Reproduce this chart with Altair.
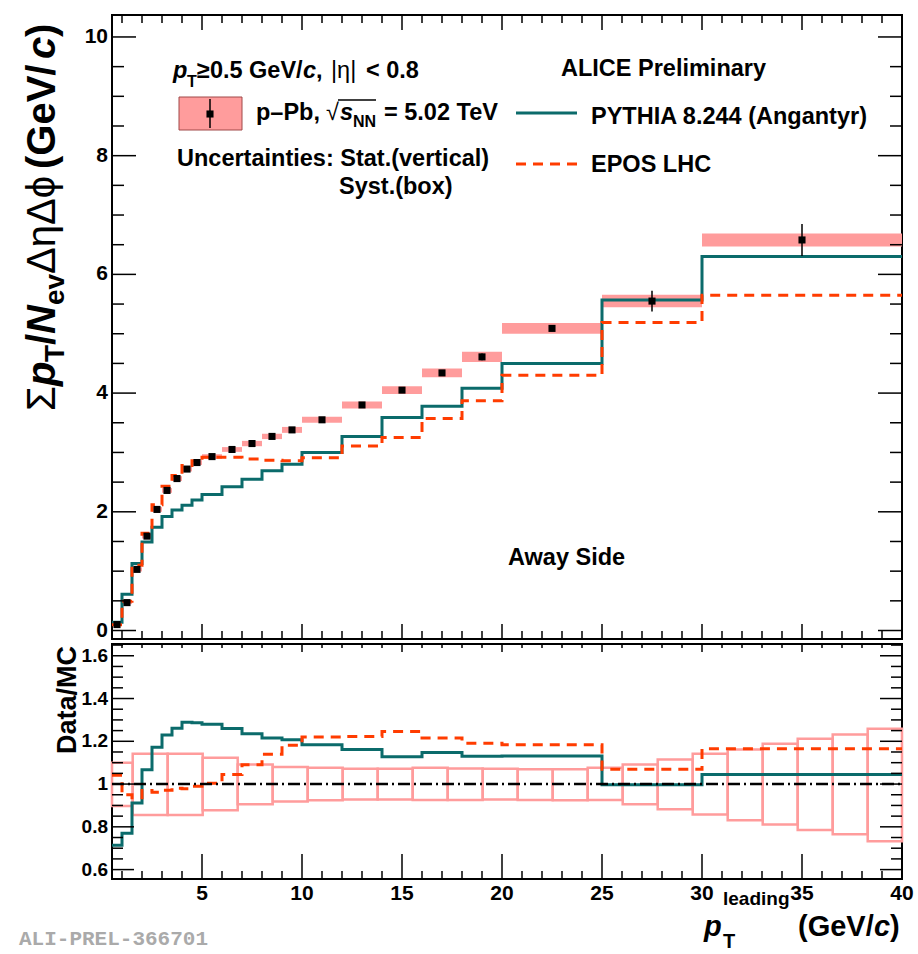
import altair as alt
import pandas as pd

# ---------------------------------------------------------------------------
# Away-side summed pT density vs leading-particle pT, p-Pb at 5.02 TeV
# ---------------------------------------------------------------------------
bin_edges = [0.5, 1, 1.5, 2, 2.5, 3, 3.5, 4, 4.5, 5, 6, 7, 8, 9, 10,
             12, 14, 16, 18, 20, 25, 30, 40]

data_val = [0.10, 0.47, 1.03, 1.59, 2.04, 2.36, 2.56, 2.72, 2.83, 2.93, 3.05,
            3.15, 3.27, 3.38, 3.55, 3.80, 4.05, 4.34, 4.61, 5.09, 5.55, 6.58]
data_stat = [0.005, 0.008, 0.010, 0.010, 0.010, 0.010, 0.012, 0.012, 0.013,
             0.012, 0.014, 0.016, 0.018, 0.020, 0.020, 0.025, 0.030, 0.035,
             0.055, 0.050, 0.175, 0.270]
data_syst = [0.010, 0.025, 0.035, 0.040, 0.040, 0.040, 0.040, 0.040, 0.040,
             0.040, 0.040, 0.045, 0.045, 0.050, 0.050, 0.060, 0.065, 0.075,
             0.085, 0.090, 0.105, 0.110]

pythia_val = [0.14, 0.61, 1.13, 1.49, 1.74, 1.92, 2.03, 2.11, 2.20, 2.29, 2.42,
              2.55, 2.69, 2.80, 3.00, 3.27, 3.59, 3.78, 4.08, 4.50, 5.57, 6.30]
epos_val = [0.096, 0.495, 1.10, 1.64, 2.12, 2.43, 2.61, 2.78, 2.86, 2.92, 2.92,
            2.89, 2.87, 2.86, 2.91, 3.11, 3.25, 3.57, 3.87, 4.30, 5.19, 5.65]

# relative systematic band shown in the ratio panel
ratio_box_edges = [0.5, 1.535, 3.285, 5.035, 6.785, 8.535, 10.285, 12.035,
                   13.785, 15.535, 17.285, 19.035, 20.785, 22.535, 24.285,
                   26.035, 27.785, 29.535, 31.285, 33.035, 34.785, 36.535,
                   38.285, 40.0]
ratio_syst_lo = [0.897, 0.855, 0.855, 0.878, 0.905, 0.918, 0.924, 0.928, 0.928,
                 0.925, 0.925, 0.928, 0.925, 0.924, 0.925, 0.905, 0.882, 0.858,
                 0.831, 0.811, 0.785, 0.765, 0.733]
ratio_syst_hi = [1.100, 1.142, 1.142, 1.123, 1.092, 1.080, 1.076, 1.072, 1.072,
                 1.076, 1.073, 1.072, 1.069, 1.069, 1.076, 1.092, 1.115, 1.142,
                 1.162, 1.189, 1.212, 1.232, 1.259]

upper_y_labels = [0, 2, 4, 6, 8, 10]
lower_y_labels = [0.6, 0.8, 1.0, 1.2, 1.4, 1.6]
x_labels = [5, 10, 15, 20, 25, 30, 35, 40]

# ---------------------------------------------------------------------------
FONT = "Liberation Sans"
MONO = "Liberation Mono"
PINK = "#ff9c9c"
TEAL = "#0b6b6b"
ORANGE = "#ff3c00"
W, H_UP, H_LO = 790, 624, 235

X_SCALE = alt.Scale(domain=[0.5, 40], nice=False, zero=False)
Y_UP = alt.Scale(domain=[-0.143, 10.37], nice=False, zero=False)
Y_LO = alt.Scale(domain=[0.556, 1.655], nice=False, zero=False)

lo_edges, hi_edges = bin_edges[:-1], bin_edges[1:]
points = pd.DataFrame({
    "lo": lo_edges,
    "hi": hi_edges,
    "mid": [(a + b) / 2 for a, b in zip(lo_edges, hi_edges)],
    "val": data_val,
    "stat_lo": [v - s for v, s in zip(data_val, data_stat)],
    "stat_hi": [v + s for v, s in zip(data_val, data_stat)],
    "syst_lo": [v - s for v, s in zip(data_val, data_syst)],
    "syst_hi": [v + s for v, s in zip(data_val, data_syst)],
})


def step_frame(values):
    xs = list(lo_edges) + [bin_edges[-1]]
    ys = list(values) + [values[-1]]
    return pd.DataFrame({"x": xs, "y": ys})


ratio_pythia = [d / m for d, m in zip(data_val, pythia_val)]
ratio_epos = [d / m for d, m in zip(data_val, epos_val)]

ratio_boxes = pd.DataFrame({
    "lo": ratio_box_edges[:-1], "hi": ratio_box_edges[1:],
    "ylo": ratio_syst_lo, "yhi": ratio_syst_hi,
})

ONE = pd.DataFrame({"k": [0]})


def text(s, x, y, size=23.5, weight="bold", style="normal", align="left",
         angle=0, color="black", font=FONT):
    return alt.Chart(ONE).mark_text(
        text=s, fontSize=size, fontWeight=weight, fontStyle=style,
        align=align, baseline="alphabetic", angle=angle, color=color, font=font,
    ).encode(x=alt.value(x), y=alt.value(y))


def yticks(vals, scale, x_from, x_to):
    return alt.Chart(pd.DataFrame({"v": vals})).mark_rule(
        color="black", strokeWidth=1.5
    ).encode(y=alt.Y("v:Q", scale=scale, axis=None),
             x=alt.value(x_from), x2=alt.value(x_to))


def xticks(vals, y_from, y_to):
    return alt.Chart(pd.DataFrame({"v": vals})).mark_rule(
        color="black", strokeWidth=1.5
    ).encode(x=alt.X("v:Q", scale=X_SCALE, axis=None),
             y=alt.value(y_from), y2=alt.value(y_to))


def ylabels(vals, scale, size):
    labs = ["1" if v == 1 else (f"{v:.1f}" if isinstance(v, float) else str(v))
            for v in vals]
    return alt.Chart(pd.DataFrame({"v": vals, "lab": labs})).mark_text(
        font=FONT, fontSize=size, fontWeight="bold", color="black",
        align="right", baseline="middle"
    ).encode(y=alt.Y("v:Q", scale=scale, axis=None), x=alt.value(-4),
             text="lab:N")


def xlabels(vals, y, size):
    return alt.Chart(pd.DataFrame({"v": vals, "lab": [str(v) for v in vals]})
                     ).mark_text(
        font=FONT, fontSize=size, fontWeight="bold", color="black",
        align="center", baseline="top"
    ).encode(x=alt.X("v:Q", scale=X_SCALE, axis=None), y=alt.value(y),
             text="lab:N")


x_major = [v for v in x_labels if v < 40]
x_minor = [v for v in range(1, 40) if v % 5 != 0]
up_major = upper_y_labels
up_minor = [i * 0.5 for i in range(1, 21) if i % 4 != 0]
lo_major = lower_y_labels
lo_minor = [round(0.6 + 0.05 * i, 2) for i in range(0, 22) if i % 4 != 0]

# ----------------------------- upper panel ---------------------------------
syst = alt.Chart(points).mark_rect(color=PINK, opacity=1).encode(
    x=alt.X("lo:Q", scale=X_SCALE, axis=None), x2="hi:Q",
    y=alt.Y("syst_lo:Q", scale=Y_UP, axis=None), y2="syst_hi:Q")

pythia = alt.Chart(step_frame(pythia_val)).mark_line(
    interpolate="step-after", color=TEAL, strokeWidth=3).encode(
    x=alt.X("x:Q", scale=X_SCALE, axis=None),
    y=alt.Y("y:Q", scale=Y_UP, axis=None))

epos = alt.Chart(step_frame(epos_val)).mark_line(
    interpolate="step-after", color=ORANGE, strokeWidth=3,
    strokeDash=[10, 7]).encode(
    x=alt.X("x:Q", scale=X_SCALE, axis=None),
    y=alt.Y("y:Q", scale=Y_UP, axis=None))

errs = alt.Chart(points).mark_rule(color="black", strokeWidth=1.5).encode(
    x=alt.X("mid:Q", scale=X_SCALE, axis=None),
    y=alt.Y("stat_lo:Q", scale=Y_UP, axis=None), y2="stat_hi:Q")

markers = alt.Chart(points).mark_square(size=50, color="black", opacity=1).encode(
    x=alt.X("mid:Q", scale=X_SCALE, axis=None),
    y=alt.Y("val:Q", scale=Y_UP, axis=None))

up_ticks = [
    yticks(up_major, Y_UP, 0, 24), yticks(up_minor, Y_UP, 0, 12),
    yticks(up_major, Y_UP, W, W - 24), yticks(up_minor, Y_UP, W, W - 12),
    xticks(x_major, H_UP, H_UP - 15), xticks(x_minor, H_UP, H_UP - 8),
    xticks(x_major, 0, 15), xticks(x_minor, 0, 8),
    ylabels(upper_y_labels, Y_UP, 21),
]

# y-axis title, written bottom to top
YB, YS = -57, -48
y_title = [
    text("Σ", YB, 396, size=40, weight="normal"),
    text("p", YB, 371, size=40, style="italic"),
    text("T", YS, 347, size=28),
    text("/", YB, 330, size=40),
    text("N", YB, 319, size=40, style="italic"),
    text("ev", YS, 290, size=28),
    text("ΔηΔϕ", YB, 259, size=40, weight="normal"),
    text(" (GeV/", YB, 154, size=40),
    text("c", YB, 44, size=40, style="italic"),
    text(")", YB, 22, size=40),
]
y_title = [t.encode(angle=alt.value(270)) for t in y_title]

legend = [
    # kinematic selection
    text("p", 61, 63, style="italic"),
    text("T", 75, 72, size=16),
    text("≥0.5 GeV/", 85, 63),
    text("c", 191, 63, style="italic"),
    text(",", 204, 63),
    text("|η|", 219, 63, weight="normal"),
    text("< 0.8", 254, 63),
    # data entry
    alt.Chart(ONE).mark_rect(color=PINK, stroke="#a04848", strokeWidth=1).encode(
        x=alt.value(67), x2=alt.value(130), y=alt.value(82), y2=alt.value(115)),
    alt.Chart(ONE).mark_rule(color="black", strokeWidth=1.5).encode(
        x=alt.value(98), y=alt.value(84), y2=alt.value(113)),
    alt.Chart(ONE).mark_square(size=50, color="black", opacity=1).encode(
        x=alt.value(98), y=alt.value(99)),
    text("p–Pb, ", 144, 105),
    text("√", 214, 105, weight="normal"),
    alt.Chart(ONE).mark_rule(color="black", strokeWidth=1.5).encode(
        x=alt.value(226), x2=alt.value(264), y=alt.value(85)),
    text("s", 228, 105, style="italic"),
    text("NN", 241, 112, size=16),
    text("= 5.02 TeV", 272, 105),
    text("Uncertainties: Stat.(vertical)", 65, 151),
    text("Syst.(box)", 227, 179),
    # models
    text("ALICE Preliminary", 449, 61),
    alt.Chart(ONE).mark_rule(color=TEAL, strokeWidth=3).encode(
        x=alt.value(404), x2=alt.value(465), y=alt.value(98)),
    text("PYTHIA 8.244 (Angantyr)", 479, 109),
    alt.Chart(ONE).mark_rule(color=ORANGE, strokeWidth=3,
                             strokeDash=[10, 7]).encode(
        x=alt.value(404), x2=alt.value(465), y=alt.value(149)),
    text("EPOS LHC", 479, 157),
    text("Away Side", 396, 550),
]

upper = alt.layer(syst, pythia, epos, errs, markers, *up_ticks, *y_title,
                  *legend).properties(width=W, height=H_UP)

# ----------------------------- ratio panel ---------------------------------
boxes = alt.Chart(ratio_boxes).mark_rect(
    color=PINK, fillOpacity=0, stroke=PINK, strokeWidth=2.5).encode(
    x=alt.X("lo:Q", scale=X_SCALE, axis=None), x2="hi:Q",
    y=alt.Y("ylo:Q", scale=Y_LO, axis=None), y2="yhi:Q")

r_pythia = alt.Chart(step_frame(ratio_pythia)).mark_line(
    interpolate="step-after", color=TEAL, strokeWidth=3).encode(
    x=alt.X("x:Q", scale=X_SCALE, axis=None),
    y=alt.Y("y:Q", scale=Y_LO, axis=None))

r_epos = alt.Chart(step_frame(ratio_epos)).mark_line(
    interpolate="step-after", color=ORANGE, strokeWidth=3,
    strokeDash=[10, 7]).encode(
    x=alt.X("x:Q", scale=X_SCALE, axis=None),
    y=alt.Y("y:Q", scale=Y_LO, axis=None))

unity = alt.Chart(pd.DataFrame({"x0": [0.5], "x1": [40.0], "y": [1.0]})).mark_rule(
    color="black", strokeWidth=2.5, strokeDash=[12, 4, 2, 4]).encode(
    x=alt.X("x0:Q", scale=X_SCALE, axis=None), x2="x1:Q",
    y=alt.Y("y:Q", scale=Y_LO, axis=None))

lo_ticks = [
    yticks(lo_major, Y_LO, 0, 22), yticks(lo_minor, Y_LO, 0, 11),
    yticks(lo_major, Y_LO, W, W - 22), yticks(lo_minor, Y_LO, W, W - 11),
    xticks(x_major, H_LO, H_LO - 25), xticks(x_minor, H_LO, H_LO - 8),
    xticks(x_major, 0, 8), xticks(x_minor, 0, 4),
    ylabels(lower_y_labels, Y_LO, 19),
    xlabels(x_labels, H_LO + 4, 21),
]

lower_text = [
    text("Data/MC", -36, 2, size=27, align="right").encode(angle=alt.value(270)),
    text("p", 592, 292, size=29, style="italic"),
    text("T", 611, 304, size=20),
    text("leading", 611, 261, size=19),
    text("(GeV/", 686, 292, size=29),
    text("c", 762, 292, size=29, style="italic"),
    text(")", 778, 292, size=29),
    text("ALI-PREL-366701", -93, 301, size=21, color="#aaaaaa", font=MONO),
]

lower = alt.layer(boxes, r_pythia, r_epos, unity, *lo_ticks,
                  *lower_text).properties(width=W, height=H_LO)

chart = alt.vconcat(upper, lower, spacing=0).properties(
    padding={"left": 18, "top": 13, "right": 0, "bottom": 0},
    background="white",
).configure_view(stroke="black", strokeWidth=2)

chart.save("out.html", embed_options={"renderer": "svg", "actions": False})
